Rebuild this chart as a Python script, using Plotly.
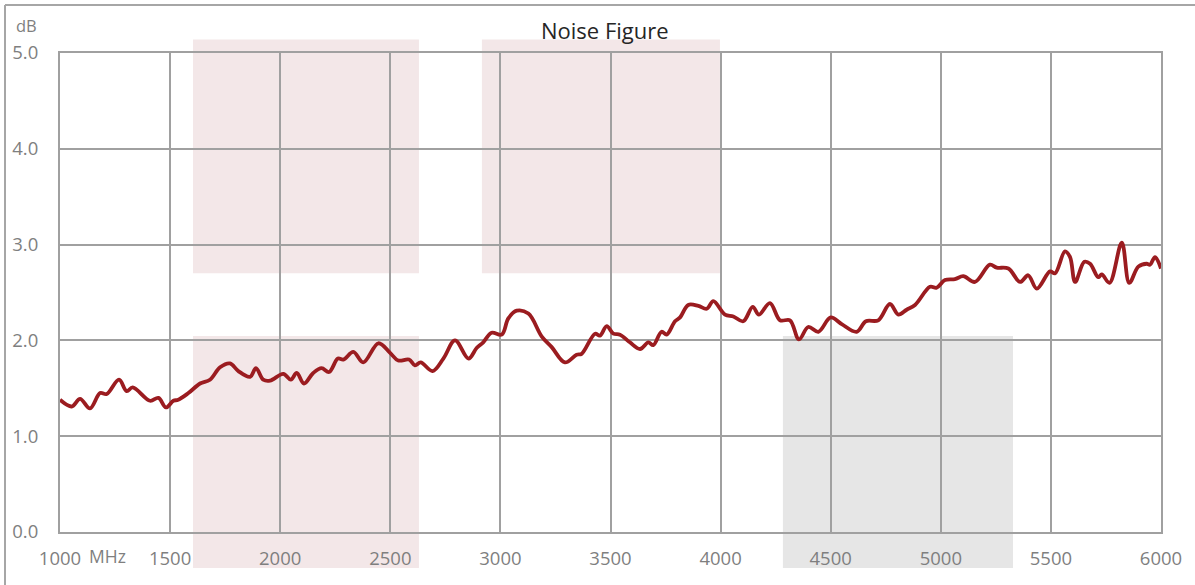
import plotly.graph_objects as go

# ---- data ----
freq_mhz = [1000, 1053, 1091, 1136, 1182, 1212, 1268, 1303, 1330, 1409, 1447, 1481, 1515, 1537,
            1583, 1636, 1681, 1727, 1772, 1810, 1863, 1890, 1923, 1954, 2014, 2048, 2075, 2108,
            2150, 2188, 2222, 2262, 2287, 2332, 2377, 2446, 2499, 2536, 2585, 2612, 2638, 2692,
            2741, 2794, 2855, 2892, 2922, 2960, 3006, 3036, 3074, 3127, 3188, 3233, 3293, 3346,
            3369, 3430, 3452, 3483, 3513, 3543, 3588, 3634, 3672, 3694, 3732, 3755, 3793, 3816,
            3853, 3899, 3937, 3967, 4020, 4058, 4103, 4146, 4174, 4224, 4270, 4315, 4356, 4398,
            4444, 4500, 4550, 4618, 4660, 4716, 4769, 4807, 4845, 4883, 4951, 4981, 5019, 5064,
            5102, 5155, 5223, 5254, 5307, 5360, 5397, 5436, 5496, 5519, 5564, 5587, 5610, 5652,
            5678, 5715, 5731, 5766, 5822, 5856, 5897, 5935, 5950, 5973, 6000]
noise_db = [1.38, 1.31, 1.39, 1.29, 1.45, 1.44, 1.59, 1.47, 1.51, 1.37, 1.40, 1.30, 1.37, 1.38,
            1.45, 1.55, 1.59, 1.72, 1.76, 1.68, 1.62, 1.71, 1.59, 1.58, 1.65, 1.59, 1.66, 1.55,
            1.66, 1.71, 1.67, 1.81, 1.80, 1.88, 1.77, 1.97, 1.87, 1.79, 1.80, 1.74, 1.77, 1.68,
            1.81, 2.00, 1.81, 1.92, 1.98, 2.08, 2.06, 2.23, 2.31, 2.28, 2.04, 1.93, 1.77, 1.85,
            1.86, 2.07, 2.05, 2.15, 2.07, 2.06, 1.98, 1.91, 1.98, 1.95, 2.09, 2.06, 2.20, 2.24,
            2.37, 2.36, 2.33, 2.41, 2.27, 2.25, 2.20, 2.35, 2.27, 2.39, 2.21, 2.21, 2.01, 2.14,
            2.09, 2.24, 2.17, 2.09, 2.20, 2.21, 2.38, 2.27, 2.32, 2.37, 2.56, 2.55, 2.63, 2.64,
            2.67, 2.61, 2.79, 2.76, 2.75, 2.61, 2.68, 2.54, 2.72, 2.70, 2.93, 2.87, 2.61, 2.82,
            2.80, 2.66, 2.69, 2.60, 3.02, 2.60, 2.77, 2.80, 2.79, 2.87, 2.75]

x_ticks = [1000, 1500, 2000, 2500, 3000, 3500, 4000, 4500, 5000, 5500, 6000]
y_ticks = [0, 1, 2, 3, 4, 5]

# shaded bands (MHz, dB)
band_x0 = [1604, 2916, 1604, 4283]
band_x1 = [2630, 3997, 2630, 5328]
band_y0 = [2.70, 2.70, -0.375, -0.375]
band_y1 = [5.14, 5.14, 2.045, 2.045]
band_col = ["#F3E7E8", "#F3E7E8", "#F3E7E8", "#E6E6E6"]

X_MIN, X_MAX = 1000, 6000
Y_MIN, Y_MAX = 0, 5


def px_(v):
    return (v - X_MIN) / (X_MAX - X_MIN)


def py_(v):
    return (v - Y_MIN) / (Y_MAX - Y_MIN)


GRID = "#A0A0A0"
TXT = "#7F7F7F"
FONT = "Open Sans"

fig = go.Figure()
fig.add_trace(go.Scatter(
    x=freq_mhz, y=noise_db, mode="lines",
    line=dict(color="#9B1C20", width=3.8, shape="spline", smoothing=1.0),
    hoverinfo="x+y", showlegend=False,
))

shapes = []
for x0, x1, y0, y1, c in zip(band_x0, band_x1, band_y0, band_y1, band_col):
    shapes.append(dict(type="rect", xref="paper", yref="paper",
                       x0=px_(x0), x1=px_(x1), y0=py_(y0), y1=py_(y1),
                       fillcolor=c, line=dict(width=0), layer="below"))

# outer chart frame (left and top edges visible)
W, H = 1195, 585
L, R, T, B = 60, 34, 53, 53
pw, ph = W - L - R, H - T - B
fx = (5 - L) / pw
fy = (H - B - 5) / ph
shapes.append(dict(type="line", xref="paper", yref="paper",
                   x0=fx, x1=fx, y0=fy, y1=-(B + 5) / ph,
                   line=dict(color="#A6A6A6", width=2)))
shapes.append(dict(type="line", xref="paper", yref="paper",
                   x0=fx, x1=(W - L + 5) / pw, y0=fy, y1=fy,
                   line=dict(color="#A6A6A6", width=2)))

annotations = [
    dict(text="Noise Figure", xref="paper", yref="paper",
         x=(605 - L) / pw, y=(H - B - 30) / ph, xanchor="center", yanchor="middle",
         showarrow=False, font=dict(family=FONT, size=22, color="#262626")),
    dict(text="dB", xref="paper", yref="paper",
         x=(14 - L) / pw, y=(H - B - 25) / ph, xanchor="left", yanchor="middle",
         showarrow=False, font=dict(family=FONT, size=16.5, color=TXT)),
    dict(text="MHz", xref="paper", yref="paper",
         x=(107 - L) / pw, y=(H - B - 556) / ph, xanchor="center", yanchor="middle",
         showarrow=False, font=dict(family=FONT, size=17.5, color=TXT)),
]

fig.update_layout(
    width=W, height=H,
    margin=dict(l=L, r=R, t=T, b=B, pad=0),
    paper_bgcolor="white", plot_bgcolor="rgba(0,0,0,0)",
    shapes=shapes, annotations=annotations,
    font=dict(family=FONT, size=18.5, color=TXT),
    xaxis=dict(range=[X_MIN, X_MAX], tickvals=x_ticks, ticktext=[str(v) for v in x_ticks],
               showgrid=True, gridcolor=GRID, gridwidth=2, zeroline=False,
               showline=True, mirror=True, linecolor=GRID, linewidth=2,
               ticks="", ticklabelstandoff=9, fixedrange=True),
    yaxis=dict(range=[Y_MIN, Y_MAX], tickvals=y_ticks, ticktext=[f"{v:.1f}" for v in y_ticks],
               showgrid=True, gridcolor=GRID, gridwidth=2, zeroline=False,
               showline=True, mirror=True, linecolor=GRID, linewidth=2,
               ticks="", ticklabelstandoff=16, fixedrange=True),
)

fig.write_html("out.html", config={"displayModeBar": False},
               post_script="document.body.style.margin='0px';document.body.style.padding='0px';")
